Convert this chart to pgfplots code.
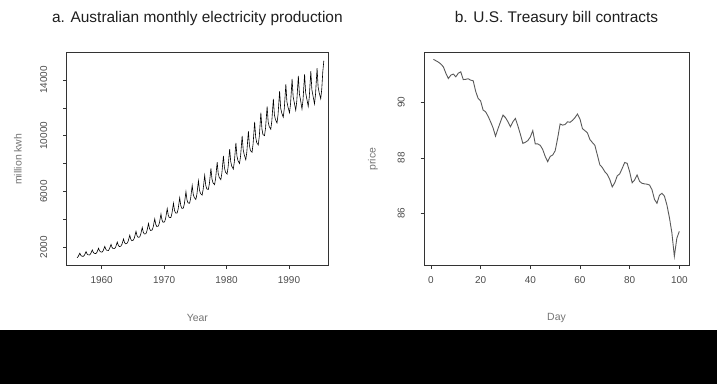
\documentclass[border=0pt]{standalone}
\usepackage{pgfplots}
\pgfplotsset{compat=1.18}
\usepackage{fontspec}
\setmainfont{Liberation Sans}
\definecolor{framec}{gray}{0.2}
\definecolor{tickc}{gray}{0.3}
\definecolor{labc}{gray}{0.45}
\definecolor{linec}{gray}{0.35}
\begin{document}
\begin{tikzpicture}
\useasboundingbox (0bp,0bp) rectangle (717bp,384bp);
\fill[black] (0bp,0bp) rectangle (717bp,54bp);
\pgfplotsset{rstyle/.style={
  scale only axis, anchor=south west,
  axis line style={framec, line width=0.7pt},
  tick style={framec, line width=0.6pt},
  tick align=outside, major tick length=3.5bp,
  xtick pos=lower, ytick pos=left,
  scaled ticks=false,
  ticklabel style={font=\fontsize{10}{12}\selectfont, text=tickc, inner sep=0pt},
  /pgf/number format/assume math mode=true,
  /pgf/number format/1000 sep={},
  yticklabel style={rotate=90, anchor=base},
  xticklabel style={anchor=base},
  xticklabel shift=14bp,
  yticklabel shift=16bp,
  title style={at={(axis description cs:0.5,1.112)}, anchor=base, font=\fontsize{15.5}{18}\selectfont, text=black!88},
  label style={font=\fontsize{10.5}{12}\selectfont, text=labc},
  xlabel style={at={(axis description cs:0.5,-0.2455)}, anchor=center},
}}
\begin{axis}[rstyle, at={(66.7bp,118.3bp)}, width=261.3bp, height=213bp,
  xmin=1954.4, xmax=1996.25, ymin=681, ymax=15957,
  xtick={1960,1970,1980,1990},
  ytick={2000,4000,6000,8000,10000,12000,14000},
  yticklabels={2000,,6000,,10000,,14000},
  title={a. Australian monthly electricity production},
  xlabel={Year}, ylabel={million kwh},
  ylabel style={at={(axis description cs:-0.1864,0.5)}, anchor=center, rotate=0},
]
\addplot[black, line width=0.6pt] table {
x y
1956.083 1254
1956.25 1349
1956.5 1576
1956.667 1420
1956.833 1363
1957.083 1353
1957.25 1444
1957.5 1687
1957.667 1520
1957.833 1459
1958.083 1451
1958.25 1549
1958.5 1809
1958.667 1630
1958.833 1565
1959.083 1549
1959.25 1653
1959.5 1931
1959.667 1740
1959.833 1670
1960.083 1655
1960.25 1767
1960.5 2065
1960.667 1860
1960.833 1786
1961.083 1771
1961.25 1891
1961.5 2209
1961.667 1990
1961.833 1910
1962.083 1905
1962.25 2033
1962.5 2375
1962.667 2140
1962.833 2054
1963.083 2083
1963.25 2223
1963.5 2597
1963.667 2340
1963.833 2246
1964.083 2296
1964.25 2451
1964.5 2864
1964.667 2580
1964.833 2477
1965.083 2519
1965.25 2689
1965.5 3141
1965.667 2830
1965.833 2717
1966.083 2741
1966.25 2926
1966.5 3419
1966.667 3080
1966.833 2957
1967.083 2973
1967.25 3173
1967.5 3707
1967.667 3340
1967.833 3206
1968.083 3240
1968.25 3458
1968.5 4040
1968.667 3640
1968.833 3494
1969.083 3516
1969.25 3753
1969.5 4385
1969.667 3950
1969.833 3792
1970.083 3827
1970.25 4085
1970.5 4773
1970.667 4300
1970.833 4128
1971.083 4139
1971.25 4418
1971.5 5162
1971.667 4650
1971.833 4464
1972.083 4450
1972.25 4750
1972.5 5550
1972.667 5000
1972.833 4800
1973.083 4806
1973.25 5130
1973.5 5994
1973.667 5400
1973.833 5184
1974.083 5162
1974.25 5510
1974.5 6438
1974.667 5800
1974.833 5568
1975.083 5429
1975.25 5795
1975.5 6771
1975.667 6100
1975.833 5856
1976.083 5741
1976.25 6128
1976.5 7160
1976.667 6450
1976.833 6192
1977.083 6141
1977.25 6555
1977.5 7659
1977.667 6900
1977.833 6624
1978.083 6497
1978.25 6935
1978.5 8103
1978.667 7300
1978.833 7008
1979.083 6853
1979.25 7315
1979.5 8547
1979.667 7700
1979.833 7392
1980.083 7254
1980.25 7743
1980.5 9047
1980.667 8150
1980.833 7824
1981.083 7610
1981.25 8123
1981.5 9491
1981.667 8550
1981.833 8208
1982.083 8010
1982.25 8550
1982.5 9990
1982.667 9000
1982.833 8640
1983.083 8277
1983.25 8835
1983.5 10323
1983.667 9300
1983.833 8928
1984.083 8811
1984.25 9405
1984.5 10989
1984.667 9900
1984.833 9504
1985.083 9345
1985.25 9975
1985.5 11655
1985.667 10500
1985.833 10080
1986.083 10010
1986.25 10560
1986.5 12100
1986.667 11000
1986.833 10670
1987.083 10465
1987.25 11040
1987.5 12650
1987.667 11500
1987.833 11155
1988.083 10920
1988.25 11520
1988.5 13200
1988.667 12000
1988.833 11640
1989.083 11330
1989.25 11952
1989.5 13695
1989.667 12450
1989.833 12077
1990.083 11648
1990.25 12288
1990.5 14080
1990.667 12800
1990.833 12416
1991.083 11830
1991.25 12480
1991.5 14300
1991.667 13000
1991.833 12610
1992.083 11921
1992.25 12576
1992.5 14410
1992.667 13100
1992.833 12707
1993.083 12103
1993.25 12768
1993.5 14630
1993.667 13300
1993.833 12901
1994.083 12285
1994.25 12960
1994.5 14850
1994.667 13500
1994.833 13095
1995.083 12650
1995.25 13340
1995.417 14600
1995.583 15380
};
\end{axis}
\begin{axis}[rstyle, at={(424bp,118.3bp)}, width=265bp, height=213bp,
  xmin=-2.8, xmax=103.9, ymin=84.11, ymax=91.79,
  xtick={0,20,40,60,80,100},
  ytick={86,88,90},
  title={b. U.S. Treasury bill contracts},
  xlabel={Day}, ylabel={price},
  ylabel style={at={(axis description cs:-0.1925,0.5)}, anchor=center, rotate=0},
]
\addplot[linec, line width=0.9pt] table {
x y
1 91.55
2 91.50
3 91.45
4 91.38
5 91.28
6 91.05
7 90.86
8 90.98
9 91.02
10 90.92
11 91.05
12 91.10
13 90.82
14 90.83
15 90.85
16 90.80
17 90.78
18 90.40
19 90.14
20 90.05
21 89.72
22 89.66
23 89.50
24 89.30
25 89.08
26 88.78
27 89.05
28 89.30
29 89.54
30 89.45
31 89.30
32 89.12
33 89.30
34 89.42
35 89.15
36 88.85
37 88.52
38 88.56
39 88.62
40 88.75
41 88.98
42 88.50
43 88.50
44 88.45
45 88.30
46 88.05
47 87.86
48 88.05
49 88.10
50 88.25
51 88.70
52 89.22
53 89.18
54 89.20
55 89.30
56 89.28
57 89.35
58 89.45
59 89.58
60 89.40
61 89.05
62 88.98
63 88.90
64 88.66
65 88.55
66 88.45
67 88.10
68 87.75
69 87.65
70 87.50
71 87.40
72 87.22
73 86.95
74 87.10
75 87.35
76 87.42
77 87.62
78 87.83
79 87.80
80 87.50
81 87.10
82 87.20
83 87.38
84 87.15
85 87.08
86 87.06
87 87.05
88 87.02
89 86.85
90 86.50
91 86.36
92 86.65
93 86.72
94 86.62
95 86.30
96 85.85
97 85.30
98 84.45
99 85.10
100 85.35
};
\end{axis}
\end{tikzpicture}
\end{document}
